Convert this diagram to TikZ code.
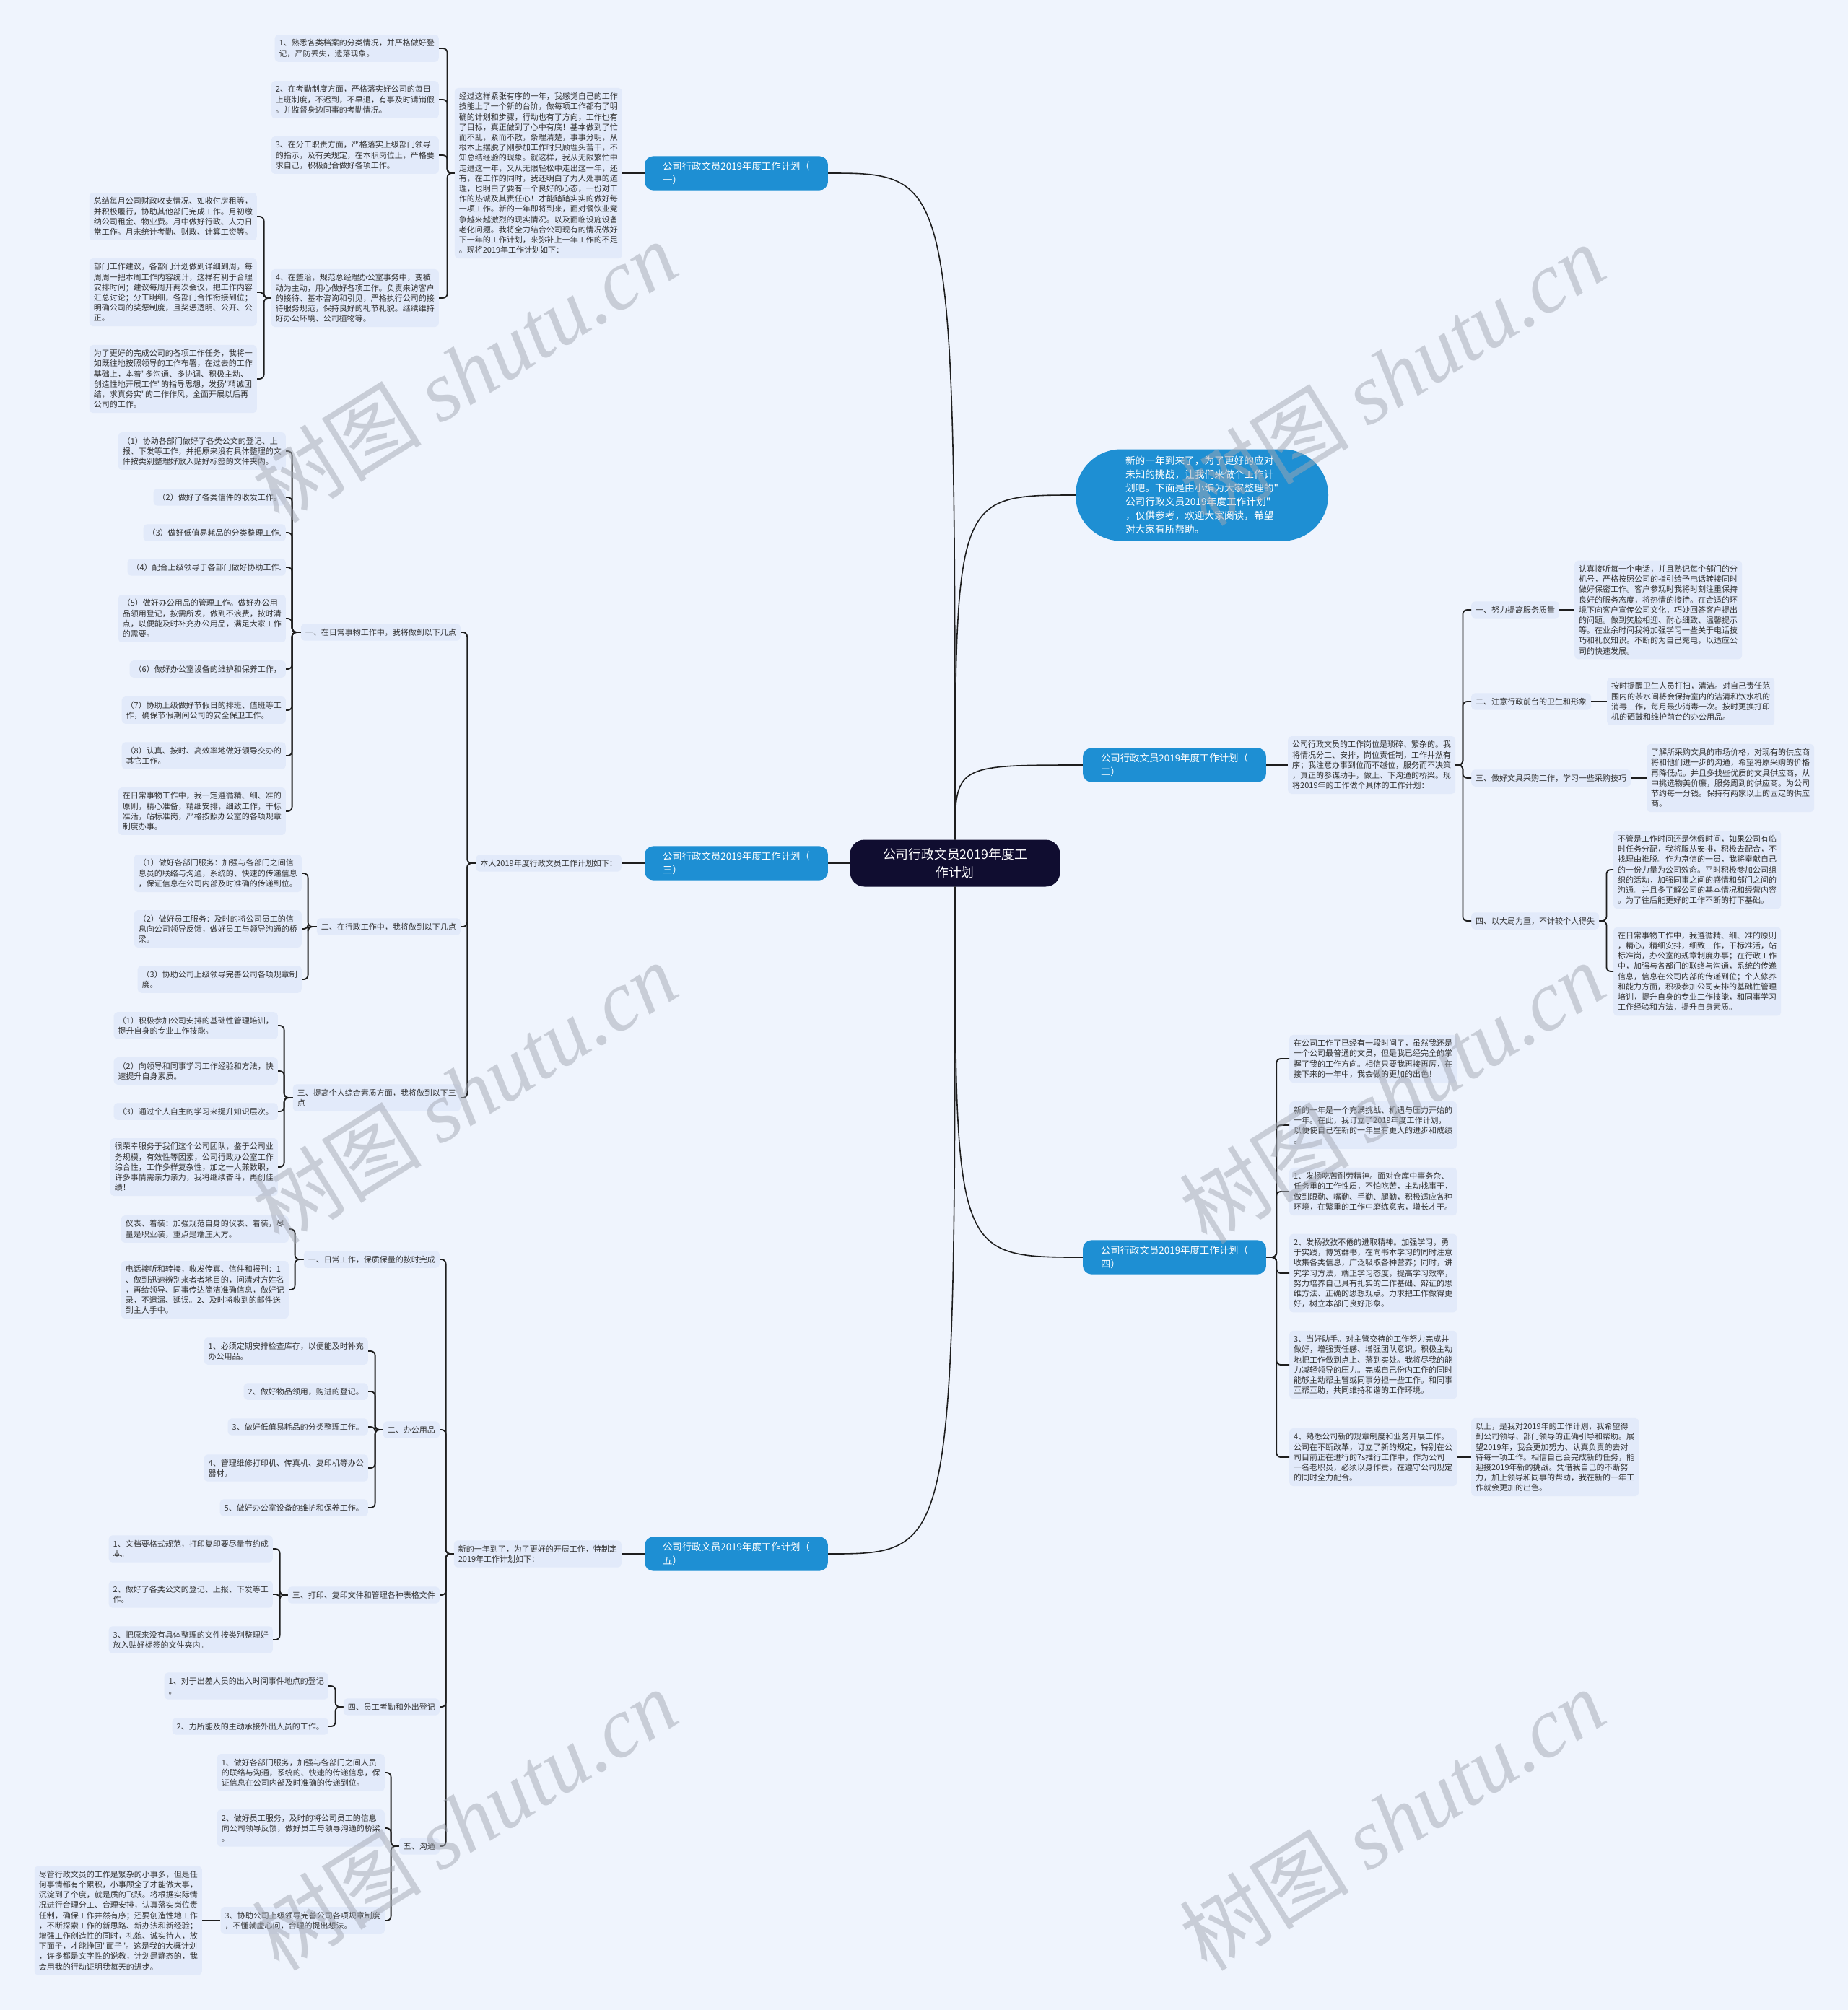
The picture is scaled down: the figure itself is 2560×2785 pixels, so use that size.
\documentclass[tikz,border=0pt]{standalone}
\usepackage{fontspec}
\newfontfamily\cjk{Noto Sans CJK SC}
\newfontfamily\wmserif{Liberation Serif}
\definecolor{bgc}{HTML}{EFF4FD}
\definecolor{leafc}{HTML}{E2EAFA}
\definecolor{bluec}{HTML}{1E8FD3}
\definecolor{rootc}{HTML}{100D30}
\definecolor{linec}{HTML}{1E1E1E}
\definecolor{txtc}{HTML}{333333}
\definecolor{wmc}{HTML}{A3A8B3}
\newcommand\lkL[3]{\draw[br] (#1.west) -- ++(-#3,0) |- (#2.east);}
\newcommand\lkR[3]{\draw[br] (#1.east) -- ++(#3,0) |- (#2.west);}
\begin{document}
\begin{tikzpicture}[x=1pt,y=-1pt,
  leaf/.style={fill=leafc,rounded corners=5pt,inner xsep=6pt,inner ysep=6.5pt,align=left,text=txtc,font=\cjk\fontsize{11}{14.2}\selectfont},
  bnode/.style={fill=bluec,text=white,rounded corners=12pt,inner xsep=25pt,inner ysep=7.5pt,align=left,font=\cjk\fontsize{13.4}{19.5}\selectfont},
  br/.style={draw=linec,line width=1.8pt,rounded corners=6pt},
  cv/.style={draw=linec,line width=1.6pt},
  wm/.style={text=wmc,opacity=0.5,font=\cjk\fontsize{118}{118}\selectfont,rotate=32}
]
\fill[bgc] (0,0) rectangle (2560,2785);
\useasboundingbox (0,0) rectangle (2560,2785);

% root and first level
\node[fill=rootc,text=white,rounded corners=20pt,align=center,minimum width=291pt,minimum height=65pt,font=\cjk\fontsize{17.8}{25}\selectfont] (root) at (1323,1196) {公司行政文员2019年度工\\作计划};
\node[bnode] (b1) at (1020,240) {公司行政文员2019年度工作计划（\\一）};
\node[bnode] (b3) at (1020,1196) {公司行政文员2019年度工作计划（\\三）};
\node[bnode] (b5) at (1020,2153) {公司行政文员2019年度工作计划（\\五）};
\node[bnode] (b2) at (1627,1060) {公司行政文员2019年度工作计划（\\二）};
\node[bnode] (b4) at (1627,1742) {公司行政文员2019年度工作计划（\\四）};
\node[fill=bluec,text=white,rounded corners=63pt,minimum width=350pt,minimum height=127pt,align=left,font=\cjk\fontsize{13.7}{19}\selectfont] (intro) at (1665,686) {新的一年到来了，为了更好的应对\\未知的挑战，让我们来做个工作计\\划吧。下面是由小编为大家整理的"\\公司行政文员2019年度工作计划"\\，仅供参考，欢迎大家阅读，希望\\对大家有所帮助。};

\draw[cv] (root) .. controls (root.center |- b1.east) .. (b1.east);
\draw[cv] (root) .. controls (root.center |- intro.west) .. (intro.west);
\draw[cv] (root) .. controls (root.center |- b2.west) .. (b2.west);
\draw[cv] (root) -- (b3);
\draw[cv] (root) .. controls (root.center |- b4.west) .. (b4.west);
\draw[cv] (root) .. controls (root.center |- b5.east) .. (b5.east);

% ===== branch 1 =====
\node[leaf,anchor=east] (p1) at (862,240) {经过这样紧张有序的一年，我感觉自己的工作\\技能上了一个新的台阶，做每项工作都有了明\\确的计划和步骤，行动也有了方向，工作也有\\了目标，真正做到了心中有底！基本做到了忙\\而不乱，紧而不散，条理清楚，事事分明，从\\根本上摆脱了刚参加工作时只顾埋头苦干，不\\知总结经验的现象。就这样，我从无限繁忙中\\走进这一年，又从无限轻松中走出这一年，还\\有，在工作的同时，我还明白了为人处事的道\\理，也明白了要有一个良好的心态，一份对工\\作的热诚及其责任心！才能踏踏实实的做好每\\一项工作。新的一年即将到来，面对餐饮业竞\\争越来越激烈的现实情况。以及面临设施设备\\老化问题。我将全力结合公司现有的情况做好\\下一年的工作计划，来弥补上一年工作的不足\\。现将2019年工作计划如下：};
\draw[br] (b1.west) -- (p1.east);
\node[leaf,anchor=east] (i1) at (608,67) {1、熟悉各类档案的分类情况，并严格做好登\\记，严防丢失，遗落现象。};
\node[leaf,anchor=east] (i2) at (608,138) {2、在考勤制度方面，严格落实好公司的每日\\上班制度，不迟到，不早退，有事及时请销假\\。并监督身边同事的考勤情况。};
\node[leaf,anchor=east] (i3) at (608,215) {3、在分工职责方面，严格落实上级部门领导\\的指示，及有关规定，在本职岗位上，严格要\\求自己，积极配合做好各项工作。};
\node[leaf,anchor=east] (i4) at (608,413) {4、在整治，规范总经理办公室事务中，变被\\动为主动，用心做好各项工作。负责来访客户\\的接待、基本咨询和引见，严格执行公司的接\\待服务规范，保持良好的礼节礼貌。继续维持\\好办公环境、公司植物等。};
\lkL{p1}{i1}{10}\lkL{p1}{i2}{10}\lkL{p1}{i3}{10}\lkL{p1}{i4}{10}
\node[leaf,anchor=east] (c1) at (356,300) {总结每月公司财政收支情况、如收付房租等，\\并积极履行，协助其他部门完成工作。月初缴\\纳公司租金、物业费。月中做好行政、人力日\\常工作。月末统计考勤、财政、计算工资等。};
\node[leaf,anchor=east] (c2) at (356,405) {部门工作建议，各部门计划做到详细到周，每\\周周一把本周工作内容统计，这样有利于合理\\安排时间；建议每周开两次会议，把工作内容\\汇总讨论；分工明细，各部门合作衔接到位；\\明确公司的奖惩制度，且奖惩透明、公开、公\\正。};
\node[leaf,anchor=east] (c3) at (356,525) {为了更好的完成公司的各项工作任务，我将一\\如既往地按照领导的工作布署，在过去的工作\\基础上，本着"多沟通、多协调、积极主动、\\创造性地开展工作"的指导思想，发扬"精诚团\\结，求真务实"的工作作风，全面开展以后再\\公司的工作。};
\lkL{i4}{c1}{10}\lkL{i4}{c2}{10}\lkL{i4}{c3}{10}

% ===== branch 3 =====
\node[leaf,anchor=east] (p3) at (861,1196) {本人2019年度行政文员工作计划如下：};
\draw[br] (b3.west) -- (p3.east);
\node[leaf,anchor=east] (s1) at (638,876) {一、在日常事物工作中，我将做到以下几点};
\node[leaf,anchor=east] (s2) at (638,1284) {二、在行政工作中，我将做到以下几点};
\node[leaf,anchor=east] (s3) at (638,1521) {三、提高个人综合素质方面，我将做到以下三\\点};
\lkL{p3}{s1}{12}\lkL{p3}{s2}{12}\lkL{p3}{s3}{12}
\node[leaf,anchor=east] (a1) at (396,625) {（1）协助各部门做好了各类公文的登记、上\\报、下发等工作，并把原来没有具体整理的文\\件按类别整理好放入贴好标签的文件夹内。};
\node[leaf,anchor=east] (a2) at (396,689) {（2）做好了各类信件的收发工作。};
\node[leaf,anchor=east] (a3) at (396,738) {（3）做好低值易耗品的分类整理工作.};
\node[leaf,anchor=east] (a4) at (396,786) {（4）配合上级领导于各部门做好协助工作.};
\node[leaf,anchor=east] (a5) at (396,857) {（5）做好办公用品的管理工作。做好办公用\\品领用登记，按需所发，做到不浪费，按时清\\点，以便能及时补充办公用品，满足大家工作\\的需要。};
\node[leaf,anchor=east] (a6) at (396,927) {（6）做好办公室设备的维护和保养工作，};
\node[leaf,anchor=east] (a7) at (396,984) {（7）协助上级做好节假日的排班、值班等工\\作，确保节假期间公司的安全保卫工作。};
\node[leaf,anchor=east] (a8) at (396,1047) {（8）认真、按时、高效率地做好领导交办的\\其它工作。};
\node[leaf,anchor=east] (a9) at (396,1124) {在日常事物工作中，我一定遵循精、细、准的\\原则，精心准备，精细安排，细致工作，干标\\准活，站标准岗，严格按照办公室的各项规章\\制度办事。};
\lkL{s1}{a1}{12}\lkL{s1}{a2}{12}\lkL{s1}{a3}{12}\lkL{s1}{a4}{12}\lkL{s1}{a5}{12}\lkL{s1}{a6}{12}\lkL{s1}{a7}{12}\lkL{s1}{a8}{12}\lkL{s1}{a9}{12}
\node[leaf,anchor=east] (d1) at (418,1210) {（1）做好各部门服务：加强与各部门之间信\\息员的联络与沟通，系统的、快速的传递信息\\，保证信息在公司内部及时准确的传递到位。};
\node[leaf,anchor=east] (d2) at (418,1287) {（2）做好员工服务：及时的将公司员工的信\\息向公司领导反馈，做好员工与领导沟通的桥\\梁。};
\node[leaf,anchor=east] (d3) at (418,1357) {（3）协助公司上级领导完善公司各项规章制\\度。};
\lkL{s2}{d1}{12}\lkL{s2}{d2}{12}\lkL{s2}{d3}{12}
\node[leaf,anchor=east] (e1) at (385,1421) {（1）积极参加公司安排的基础性管理培训，\\提升自身的专业工作技能。};
\node[leaf,anchor=east] (e2) at (385,1484) {（2）向领导和同事学习工作经验和方法，快\\速提升自身素质。};
\node[leaf,anchor=east] (e3) at (385,1540) {（3）通过个人自主的学习来提升知识层次。};
\node[leaf,anchor=east] (e4) at (385,1617) {很荣幸服务于我们这个公司团队，鉴于公司业\\务规模，有效性等因素，公司行政办公室工作\\综合性，工作多样复杂性，加之一人兼数职，\\许多事情需亲力亲为，我将继续奋斗，再创佳\\绩！};
\lkL{s3}{e1}{12}\lkL{s3}{e2}{12}\lkL{s3}{e3}{12}\lkL{s3}{e4}{12}

% ===== branch 5 =====
\node[leaf,anchor=east] (p5) at (861,2153) {新的一年到了，为了更好的开展工作，特制定\\2019年工作计划如下：};
\draw[br] (b5.west) -- (p5.east);
\node[leaf,anchor=east] (t1) at (609,1745) {一、日常工作，保质保量的按时完成};
\node[leaf,anchor=east] (t2) at (609,1981) {二、办公用品};
\node[leaf,anchor=east] (t3) at (609,2210) {三、打印、复印文件和管理各种表格文件};
\node[leaf,anchor=east] (t4) at (609,2365) {四、员工考勤和外出登记};
\node[leaf,anchor=east] (t5) at (609,2558) {五、沟通};
\lkL{p5}{t1}{11}\lkL{p5}{t2}{11}\lkL{p5}{t3}{11}\lkL{p5}{t4}{11}\lkL{p5}{t5}{11}
\node[leaf,anchor=east] (f1) at (400,1703) {仪表、着装：加强规范自身的仪表、着装，尽\\量是职业装，重点是端庄大方。};
\node[leaf,anchor=east] (f2) at (400,1787) {电话接听和转接，收发传真、信件和报刊：1\\、做到迅速辨别来者者地目的，问清对方姓名\\，再给领导、同事传达简洁准确信息，做好记\\录，不遗漏、延误。2、及时将收到的邮件送\\到主人手中。};
\lkL{t1}{f1}{12}\lkL{t1}{f2}{12}
\node[leaf,anchor=east] (g1) at (510,1872) {1、必须定期安排检查库存，以便能及时补充\\办公用品。};
\node[leaf,anchor=east] (g2) at (510,1928) {2、做好物品领用，购进的登记。};
\node[leaf,anchor=east] (g3) at (510,1977) {3、做好低值易耗品的分类整理工作。};
\node[leaf,anchor=east] (g4) at (510,2034) {4、管理维修打印机、传真机、复印机等办公\\器材。};
\node[leaf,anchor=east] (g5) at (510,2089) {5、做好办公室设备的维护和保养工作。};
\lkL{t2}{g1}{11}\lkL{t2}{g2}{11}\lkL{t2}{g3}{11}\lkL{t2}{g4}{11}\lkL{t2}{g5}{11}
\node[leaf,anchor=east] (h1) at (378,2146) {1、文档要格式规范，打印复印要尽量节约成\\本。};
\node[leaf,anchor=east] (h2) at (378,2209) {2、做好了各类公文的登记、上报、下发等工\\作。};
\node[leaf,anchor=east] (h3) at (378,2272) {3、把原来没有具体整理的文件按类别整理好\\放入贴好标签的文件夹内。};
\lkL{t3}{h1}{11}\lkL{t3}{h2}{11}\lkL{t3}{h3}{11}
\node[leaf,anchor=east] (k1) at (455,2336) {1、对于出差人员的出入时间事件地点的登记\\。};
\node[leaf,anchor=east] (k2) at (455,2392) {2、力所能及的主动承接外出人员的工作。};
\lkL{t4}{k1}{11}\lkL{t4}{k2}{11}
\node[leaf,anchor=east] (m1) at (533,2456) {1、做好各部门服务，加强与各部门之间人员\\的联络与沟通，系统的、快速的传递信息，保\\证信息在公司内部及时准确的传递到位。};
\node[leaf,anchor=east] (m2) at (533,2533) {2、做好员工服务，及时的将公司员工的信息\\向公司领导反馈，做好员工与领导沟通的桥梁\\。};
\node[leaf,anchor=east] (m3) at (533,2661) {3、协助公司上级领导完善公司各项规章制度\\，不懂就虚心问，合理的提出想法。};
\lkL{t5}{m1}{11}\lkL{t5}{m2}{11}\lkL{t5}{m3}{11}
\node[leaf,anchor=east] (n1) at (280,2661) {尽管行政文员的工作是繁杂的小事多，但是任\\何事情都有个累积，小事顾全了才能做大事，\\沉淀到了个度，就是质的飞跃。将根据实际情\\况进行合理分工、合理安排，认真落实岗位责\\任制，确保工作井然有序；还要创造性地工作\\，不断探索工作的新思路、新办法和新经验；\\增强工作创造性的同时，礼貌、诚实待人，放\\下面子，才能挣回"面子"。这是我的大概计划\\，许多都是文字性的说教，计划是静态的，我\\会用我的行动证明我每天的进步。};
\draw[br] (m3.west) -- (n1.east);

% ===== branch 2 =====
\node[leaf,anchor=west] (p2) at (1784,1060) {公司行政文员的工作岗位是琐碎、繁杂的。我\\将情况分工、安排，岗位责任制，工作井然有\\序；我注意办事到位而不越位，服务而不决策\\，真正的参谋助手，做上、下沟通的桥梁。现\\将2019年的工作做个具体的工作计划：};
\draw[br] (b2.east) -- (p2.west);
\node[leaf,anchor=west] (r1) at (2038,845) {一、努力提高服务质量};
\node[leaf,anchor=west] (r2) at (2038,972) {二、注意行政前台的卫生和形象};
\node[leaf,anchor=west] (r3) at (2038,1078) {三、做好文具采购工作，学习一些采购技巧};
\node[leaf,anchor=west] (r4) at (2038,1276) {四、以大局为重，不计较个人得失};
\lkR{p2}{r1}{10}\lkR{p2}{r2}{10}\lkR{p2}{r3}{10}\lkR{p2}{r4}{10}
\node[leaf,anchor=west] (r1k) at (2181,845) {认真接听每一个电话，并且熟记每个部门的分\\机号，严格按照公司的指引给予电话转接同时\\做好保密工作。客户参观时我将时刻注重保持\\良好的服务态度，将热情的接待。在合适的环\\境下向客户宣传公司文化，巧妙回答客户提出\\的问题。做到笑脸相迎、耐心细致、温馨提示\\等。在业余时间我将加强学习一些关于电话技\\巧和礼仪知识。不断的为自己充电，以适应公\\司的快速发展。};
\node[leaf,anchor=west] (r2k) at (2226,972) {按时提醒卫生人员打扫，清洁。对自己责任范\\围内的茶水间将会保持室内的洁清和饮水机的\\消毒工作，每月最少消毒一次。按时更换打印\\机的硒鼓和维护前台的办公用品。};
\node[leaf,anchor=west] (r3k) at (2281,1078) {了解所采购文具的市场价格，对现有的供应商\\将和他们进一步的沟通，希望将原采购的价格\\再降低点。并且多找些优质的文具供应商，从\\中挑选物美价廉，服务周到的供应商。为公司\\节约每一分钱。保持有两家以上的固定的供应\\商。};
\draw[br] (r1.east) -- (r1k.west);
\draw[br] (r2.east) -- (r2k.west);
\draw[br] (r3.east) -- (r3k.west);
\node[leaf,anchor=west] (r4a) at (2235,1205) {不管是工作时间还是休假时间，如果公司有临\\时任务分配，我将服从安排，积极去配合，不\\找理由推脱。作为京信的一员，我将奉献自己\\的一份力量为公司效命。平时积极参加公司组\\织的活动，加强同事之间的感情和部门之间的\\沟通。并且多了解公司的基本情况和经营内容\\。为了往后能更好的工作不断的打下基础。};
\node[leaf,anchor=west] (r4b) at (2235,1346) {在日常事物工作中，我遵循精、细、准的原则\\，精心，精细安排，细致工作，干标准活，站\\标准岗，办公室的规章制度办事；在行政工作\\中，加强与各部门的联络与沟通，系统的传递\\信息，信息在公司内部的传递到位；个人修养\\和能力方面，积极参加公司安排的基础性管理\\培训，提升自身的专业工作技能，和同事学习\\工作经验和方法，提升自身素质。};
\lkR{r4}{r4a}{10}\lkR{r4}{r4b}{10}

% ===== branch 4 =====
\node[leaf,anchor=west] (q1) at (1786,1467) {在公司工作了已经有一段时间了，虽然我还是\\一个公司最普通的文员，但是我已经完全的掌\\握了我的工作方向。相信只要我再接再厉，在\\接下来的一年中，我会做的更加的出色！};
\node[leaf,anchor=west] (q2) at (1786,1559) {新的一年是一个充满挑战、机遇与压力开始的\\一年。在此，我订立了2019年度工作计划，\\以便使自己在新的一年里有更大的进步和成绩\\。};
\node[leaf,anchor=west] (q3) at (1786,1651) {1、发扬吃苦耐劳精神。面对仓库中事务杂、\\任务重的工作性质，不怕吃苦，主动找事干，\\做到眼勤、嘴勤、手勤、腿勤，积极适应各种\\环境，在繁重的工作中磨练意志，增长才干。};
\node[leaf,anchor=west] (q4) at (1786,1764) {2、发扬孜孜不倦的进取精神。加强学习，勇\\于实践，博览群书，在向书本学习的同时注意\\收集各类信息，广泛吸取各种营养；同时，讲\\究学习方法，端正学习态度，提高学习效率，\\努力培养自己具有扎实的工作基础、辩证的思\\维方法、正确的思想观点。力求把工作做得更\\好，树立本部门良好形象。};
\node[leaf,anchor=west] (q5) at (1786,1891) {3、当好助手。对主管交待的工作努力完成并\\做好，增强责任感、增强团队意识。积极主动\\地把工作做到点上、落到实处。我将尽我的能\\力减轻领导的压力。完成自己份内工作的同时\\能够主动帮主管或同事分担一些工作。和同事\\互帮互助，共同维持和谐的工作环境。};
\node[leaf,anchor=west] (q6) at (1786,2019) {4、熟悉公司新的规章制度和业务开展工作。\\公司在不断改革，订立了新的规定，特别在公\\司目前正在进行的7s推行工作中，作为公司\\一名老职员，必须以身作责，在遵守公司规定\\的同时全力配合。};
\lkR{b4}{q1}{14}\lkR{b4}{q2}{14}\lkR{b4}{q3}{14}\lkR{b4}{q4}{14}\lkR{b4}{q5}{14}\lkR{b4}{q6}{14}
\node[leaf,anchor=west] (q6k) at (2038,2019) {以上，是我对2019年的工作计划，我希望得\\到公司领导、部门领导的正确引导和帮助。展\\望2019年，我会更加努力、认真负责的去对\\待每一项工作。相信自己会完成新的任务，能\\迎接2019年新的挑战。凭借我自己的不断努\\力，加上领导和同事的帮助，我在新的一年工\\作就会更加的出色。};
\draw[br] (q6.east) -- (q6k.west);

% watermarks
\node[wm] (w1) at (643,515) {树图 {\wmserif\itshape shutu.cn}};
\node[wm] (w2) at (1928,519) {树图 {\wmserif\itshape shutu.cn}};
\node[wm] (w3) at (643,1514) {树图 {\wmserif\itshape shutu.cn}};
\node[wm] (w4) at (1928,1514) {树图 {\wmserif\itshape shutu.cn}};
\node[wm] (w5) at (643,2521) {树图 {\wmserif\itshape shutu.cn}};
\node[wm] (w6) at (1928,2521) {树图 {\wmserif\itshape shutu.cn}};
\end{tikzpicture}
\end{document}
